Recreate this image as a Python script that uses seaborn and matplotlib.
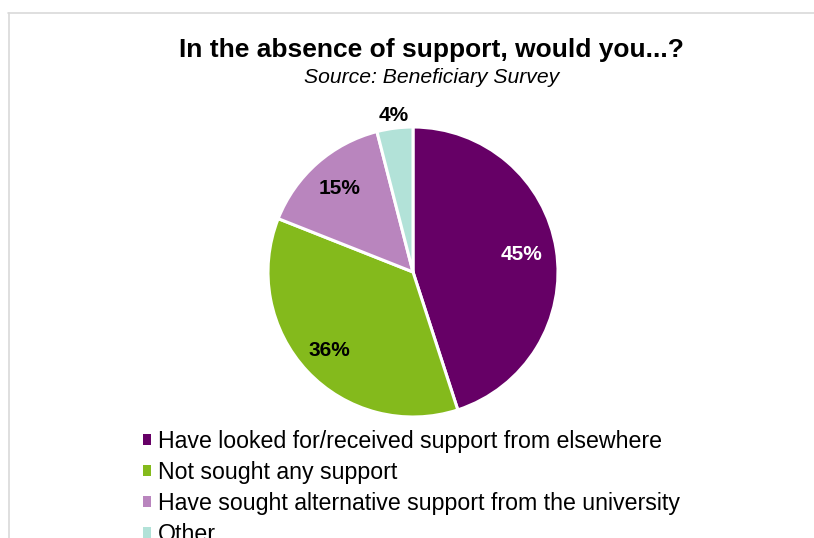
import numpy as np
import matplotlib
matplotlib.use("Agg")
import matplotlib.pyplot as plt
from matplotlib.lines import Line2D
import seaborn as sns

# Survey responses
categories = [
    "Have looked for/received support from elsewhere",
    "Not sought any support",
    "Have sought alternative support from the university",
    "Other",
]
shares = [45, 36, 15, 4]
colors = ["#660066", "#84BA1C", "#B985BE", "#B2E2D8"]
label_colors = ["white", "black", "black", "black"]
label_radius = [0.76, 0.79, 0.77, 1.09]

sns.set_theme(style="white")
plt.rcParams["font.family"] = ["Liberation Sans", "DejaVu Sans"]

W, H = 814, 538
fig = plt.figure(figsize=(W / 100, H / 100), dpi=100)
fig.patch.set_facecolor("white")

# pie axes: centre (413, 272) px, radius 145 px
cx, cy, r = 413, 272, 145
ax = fig.add_axes([(cx - r) / W, (H - cy - r) / H, 2 * r / W, 2 * r / H])
wedges, _ = ax.pie(
    shares,
    colors=colors,
    startangle=90,
    counterclock=False,
    radius=1.0,
    wedgeprops=dict(edgecolor="white", linewidth=2.2),
)
ax.set_xlim(-1, 1)
ax.set_ylim(-1, 1)
ax.set_aspect("equal")
ax.axis("off")

for w, val, col, rad in zip(wedges, shares, label_colors, label_radius):
    ang = np.deg2rad((w.theta1 + w.theta2) / 2)
    ax.text(rad * np.cos(ang), rad * np.sin(ang), f"{val}%",
            ha="center", va="center", fontsize=15, fontweight="bold",
            color=col, clip_on=False)

# titles
fig.text(431 / W, 1 - 57 / H, "In the absence of support, would you...?",
         ha="center", va="baseline", fontsize=19, fontweight="bold",
         color="black")
fig.text(432 / W, 1 - 83 / H, "Source: Beneficiary Survey",
         ha="center", va="baseline", fontsize=15.2, fontstyle="italic",
         color="black")

# legend (last row runs past the bottom edge of the figure)
leg = fig.legend(
    wedges, categories,
    loc="upper left",
    bbox_to_anchor=(143 / W, 1 - 430 / H),
    frameon=False,
    fontsize=16.7,
    labelcolor="black",
    handlelength=0.35,
    handleheight=0.35,
    handletextpad=0.3,
    labelspacing=0.34,
    borderpad=0,
    borderaxespad=0,
)
for h in leg.legend_handles:
    h.set_linewidth(0)

# chart frame
fig.add_artist(Line2D([8 / W, 1.0], [1 - 13 / H, 1 - 13 / H],
                      transform=fig.transFigure, color="#d9d9d9", lw=1.2))
fig.add_artist(Line2D([9 / W, 9 / W], [0, 1 - 13 / H],
                      transform=fig.transFigure, color="#d9d9d9", lw=1.2))

fig.savefig("out.png", dpi=100, facecolor="white")
